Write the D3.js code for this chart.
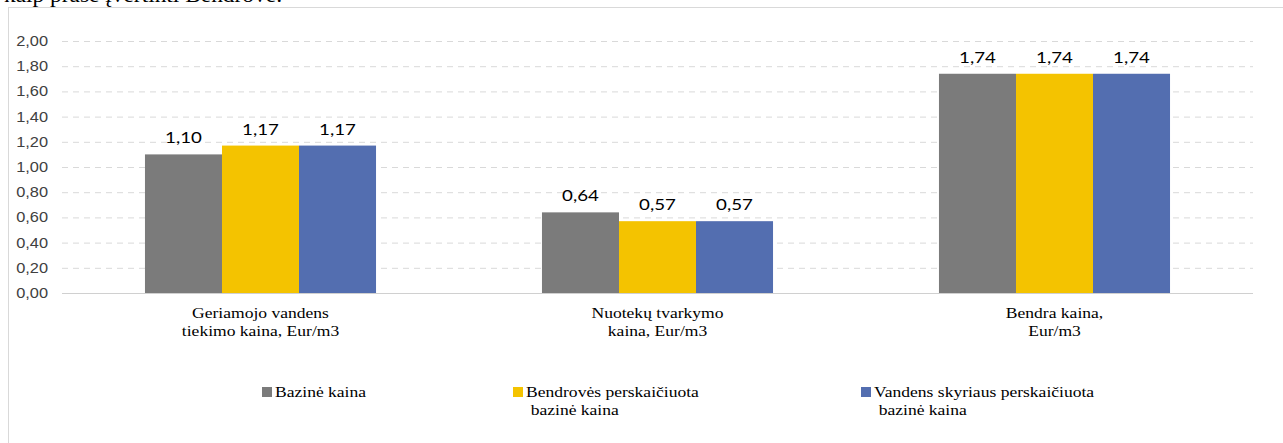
<!DOCTYPE html>
<html>
<head>
<meta charset="utf-8">
<script src="https://cdn.jsdelivr.net/npm/d3@7"></script>
<style>
  body { margin: 0; background: #fff; }
  svg { display: block; }
  .serif { font-family: "Liberation Serif", "Times New Roman", serif; }
  .tick-lbl { font-family: "Liberation Sans", Arial, sans-serif; }
  .val-lbl { font-family: Lato, "Open Sans", sans-serif; }
</style>
</head>
<body>
<svg id="chart" width="1283" height="443"></svg>
<script>
const categories = [
  ['Geriamojo vandens', 'tiekimo kaina, Eur/m3'],
  ['Nuotekų tvarkymo', 'kaina, Eur/m3'],
  ['Bendra kaina,', 'Eur/m3']
];
const seriesNames = [
  ['Bazinė kaina'],
  ['Bendrovės perskaičiuota', 'bazinė kaina'],
  ['Vandens skyriaus perskaičiuota', 'bazinė kaina']
];
const seriesColors = ['#7b7b7b', '#f4c300', '#536eb0'];
const bazine = [1.10, 0.64, 1.74];
const bendroves = [1.17, 0.57, 1.74];
const skyriaus = [1.17, 0.57, 1.74];
const yTicks = [0, 0.2, 0.4, 0.6, 0.8, 1.0, 1.2, 1.4, 1.6, 1.8, 2.0];

const series = [bazine, bendroves, skyriaus];
const fmt = (v) => v.toFixed(2).replace('.', ',');
const SX = 1.17; // the source picture is stretched sideways a bit

const svg = d3.select('#chart');
const margin = { left: 62, right: 30, top: 41, bottom: 150 };
const W = 1283, H = 443;

// cut-off heading line above the chart
svg.append('g')
  .attr('transform', `translate(4,2) scale(${SX},1)`)
  .append('text')
  .attr('class', 'serif')
  .attr('font-size', 20)
  .attr('fill', '#000')
  .text('kaip prašė įvertinti Bendrovė:');

// chart frame
svg.append('rect')
  .attr('x', 8.5).attr('y', 7.5)
  .attr('width', W).attr('height', H)
  .attr('fill', 'none')
  .attr('stroke', '#d9d9d9');

const x0 = d3.scaleBand()
  .domain(d3.range(categories.length))
  .range([margin.left, W - margin.right])
  .paddingInner(0.418)
  .paddingOuter(0.209);

const x1 = d3.scaleBand()
  .domain(d3.range(series.length))
  .range([0, x0.bandwidth()]);

const y = d3.scaleLinear()
  .domain([0, 2])
  .range([H - margin.bottom, margin.top]);

// grid
const grid = svg.append('g')
  .attr('transform', `translate(${margin.left},0)`)
  .call(d3.axisLeft(y).tickValues(yTicks.slice(1))
    .tickSize(-(W - margin.right - margin.left)).tickFormat(''));
grid.select('.domain').remove();
grid.selectAll('line')
  .attr('stroke', '#d9d9d9')
  .attr('stroke-dasharray', '6,5');

// y tick labels
yTicks.forEach((t) => {
  svg.append('g')
    .attr('transform', `translate(48,${y(t) + 5}) scale(${SX},1)`)
    .append('text')
    .attr('class', 'tick-lbl')
    .attr('text-anchor', 'end')
    .attr('font-size', 14)
    .attr('fill', '#404040')
    .text(fmt(t));
});

// bars
const groups = svg.append('g').selectAll('g')
  .data(categories.map((c, i) => ({ i, values: series.map((s) => s[i]) })))
  .join('g')
  .attr('transform', (d) => `translate(${x0(d.i)},0)`);

groups.selectAll('rect')
  .data((d) => d.values)
  .join('rect')
  .attr('x', (d, j) => x1(j))
  .attr('y', (d) => y(d))
  .attr('width', x1.bandwidth())
  .attr('height', (d) => y(0) - y(d))
  .attr('fill', (d, j) => seriesColors[j]);

groups.selectAll('g.lbl')
  .data((d) => d.values)
  .join('g')
  .attr('class', 'lbl')
  .attr('transform', (d, j) => `translate(${x1(j) + x1.bandwidth() / 2},${y(d) - 11}) scale(${SX},1)`)
  .append('text')
  .attr('class', 'val-lbl')
  .attr('text-anchor', 'middle')
  .attr('font-size', 16)
  .attr('fill', '#000')
  .text(fmt);

// baseline
svg.append('line')
  .attr('x1', margin.left).attr('x2', W - margin.right)
  .attr('y1', y(0) + 0.5).attr('y2', y(0) + 0.5)
  .attr('stroke', '#d0d0d0');

// category labels
const catLabels = svg.append('g').selectAll('g')
  .data(categories)
  .join('g')
  .attr('transform', (d, i) => `translate(${x0(i) + x0.bandwidth() / 2},${y(0) + 25}) scale(${SX},1)`)
  .append('text')
  .attr('class', 'serif')
  .attr('text-anchor', 'middle')
  .attr('font-size', 15)
  .attr('fill', '#000');
catLabels.selectAll('tspan')
  .data((d) => d)
  .join('tspan')
  .attr('x', 0)
  .attr('dy', (d, k) => (k === 0 ? 0 : 18))
  .text((d) => d);

// legend
const legendX = [262, 513, 861];
const legend = svg.append('g').selectAll('g')
  .data(seriesNames)
  .join('g')
  .attr('transform', (d, i) => `translate(${legendX[i]},387)`);
legend.append('rect')
  .attr('width', 10).attr('height', 10)
  .attr('fill', (d, i) => seriesColors[i]);
const lt = legend.append('g')
  .attr('transform', `translate(13,10) scale(${SX},1)`)
  .append('text')
  .attr('class', 'serif')
  .attr('font-size', 15)
  .attr('fill', '#000');
lt.selectAll('tspan')
  .data((d) => d)
  .join('tspan')
  .attr('x', (d, k) => (k === 0 ? 0 : 4))
  .attr('dy', (d, k) => (k === 0 ? 0 : 18))
  .text((d) => d);
</script>
</body>
</html>
